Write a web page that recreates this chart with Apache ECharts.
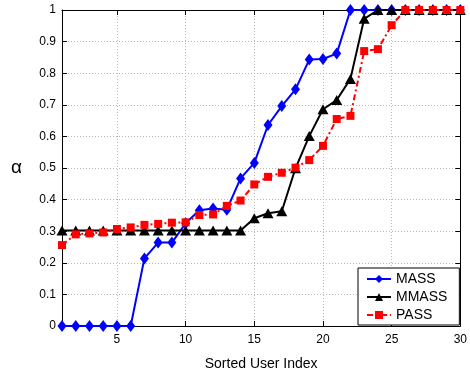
<!DOCTYPE html>
<html><head><meta charset="utf-8">
<script src="https://cdn.jsdelivr.net/npm/echarts@6/dist/echarts.min.js"></script>
<style>html,body{margin:0;padding:0;background:#fff}#c{width:470px;height:376px}</style>
</head><body><div id="c"></div>
<script>
const userIndex = [1,2,3,4,5,6,7,8,9,10,11,12,13,14,15,16,17,18,19,20,21,22,23,24,25,26,27,28,29,30];
const massValues  = [0,0,0,0,0,0,0.214,0.264,0.264,0.325,0.366,0.372,0.368,0.467,0.516,0.636,0.696,0.749,0.843,0.845,0.862,1,1,1,1,1,1,1,1,1];
const mmassValues = [0.302,0.302,0.302,0.302,0.302,0.302,0.302,0.302,0.302,0.302,0.302,0.302,0.302,0.302,0.341,0.357,0.363,0.499,0.601,0.686,0.715,0.782,0.972,1,1,1,1,1,1,1];
const passValues  = [0.256,0.29,0.293,0.296,0.307,0.312,0.32,0.323,0.327,0.328,0.351,0.353,0.38,0.397,0.448,0.472,0.485,0.501,0.525,0.57,0.655,0.665,0.87,0.876,0.952,1,1,1,1,1];
const seriesNames = ['MASS','MMASS','PASS'];
const xTickEvery = 5;

const font = 'Liberation Sans, Arial, sans-serif';
const chart = echarts.init(document.getElementById('c'), null, {renderer:'canvas'});
const showTick = (idx, val) => Number(val) % xTickEvery === 0;
const gridLine = {show:true, lineStyle:{color:'#b8b8b8', type:[1,2], width:1}};
const catAxis = (pos, labels) => ({
  type:'category', data:userIndex.map(String), boundaryGap:false, position:pos,
  axisLine:{show:true, onZero:false, lineStyle:{color:'#000', width:1}},
  axisTick:{show:true, inside:true, length:5, interval:showTick, lineStyle:{color:'#000'}},
  axisLabel:{show:labels, interval:showTick, color:'#000', fontSize:12, fontFamily:font, margin:8},
  splitLine: labels ? Object.assign({interval:showTick}, gridLine) : {show:false}
});
const valAxis = (pos, labels) => ({
  type:'value', min:0, max:1, interval:0.1, position:pos,
  axisLine:{show:true, lineStyle:{color:'#000', width:1}},
  axisTick:{show:true, inside:true, length:5, lineStyle:{color:'#000'}},
  axisLabel:{show:labels, color:'#000', fontSize:12, fontFamily:font, margin:6,
    formatter:v => String(+v.toFixed(1))},
  splitLine: labels ? gridLine : {show:false}
});
const xMain = catAxis('bottom', true);
xMain.name = 'Sorted User Index'; xMain.nameLocation='middle'; xMain.nameGap=31;
xMain.nameTextStyle = {color:'#000', fontSize:14, fontFamily:font};
const yMain = valAxis('left', true);
yMain.name = 'α'; yMain.nameLocation='middle'; yMain.nameGap=40; yMain.nameRotate=0;
yMain.nameTextStyle = {color:'#000', fontSize:19, fontFamily:font};

chart.setOption({
  animation:false,
  backgroundColor:'#fff',
  grid:{left:62, right:7, top:10, bottom:50},
  xAxis:[xMain, catAxis('top', false)],
  yAxis:[yMain, valAxis('right', false)],
  legend:{
    orient:'vertical', left:358, top:268, width:101,
    backgroundColor:'#fff', borderColor:'#000', borderWidth:1,
    padding:[4,12,3,8], itemGap:4, itemWidth:24, itemHeight:10,
    textStyle:{color:'#000', fontSize:14, fontFamily:font},
    data:seriesNames
  },
  series:[
    {name:seriesNames[0], type:'line', data:massValues, xAxisIndex:0, yAxisIndex:0,
     symbol:'diamond', symbolSize:[9,12], showSymbol:true, showAllSymbol:true, color:'#0000ff',
     lineStyle:{color:'#0000ff', width:2}, itemStyle:{color:'#0000ff'}},
    {name:seriesNames[1], type:'line', data:mmassValues, xAxisIndex:0, yAxisIndex:0,
     symbol:'triangle', symbolSize:[11,10], showSymbol:true, showAllSymbol:true, color:'#000',
     lineStyle:{color:'#000', width:2}, itemStyle:{color:'#000'}},
    {name:seriesNames[2], type:'line', data:passValues, xAxisIndex:0, yAxisIndex:0,
     symbol:'rect', symbolSize:8, showSymbol:true, showAllSymbol:true, color:'#ff0000',
     lineStyle:{color:'#ff0000', width:2, type:[6,3,2,3]},
     itemStyle:{color:'#ff0000'}}
  ]
});
</script>
</body></html>
